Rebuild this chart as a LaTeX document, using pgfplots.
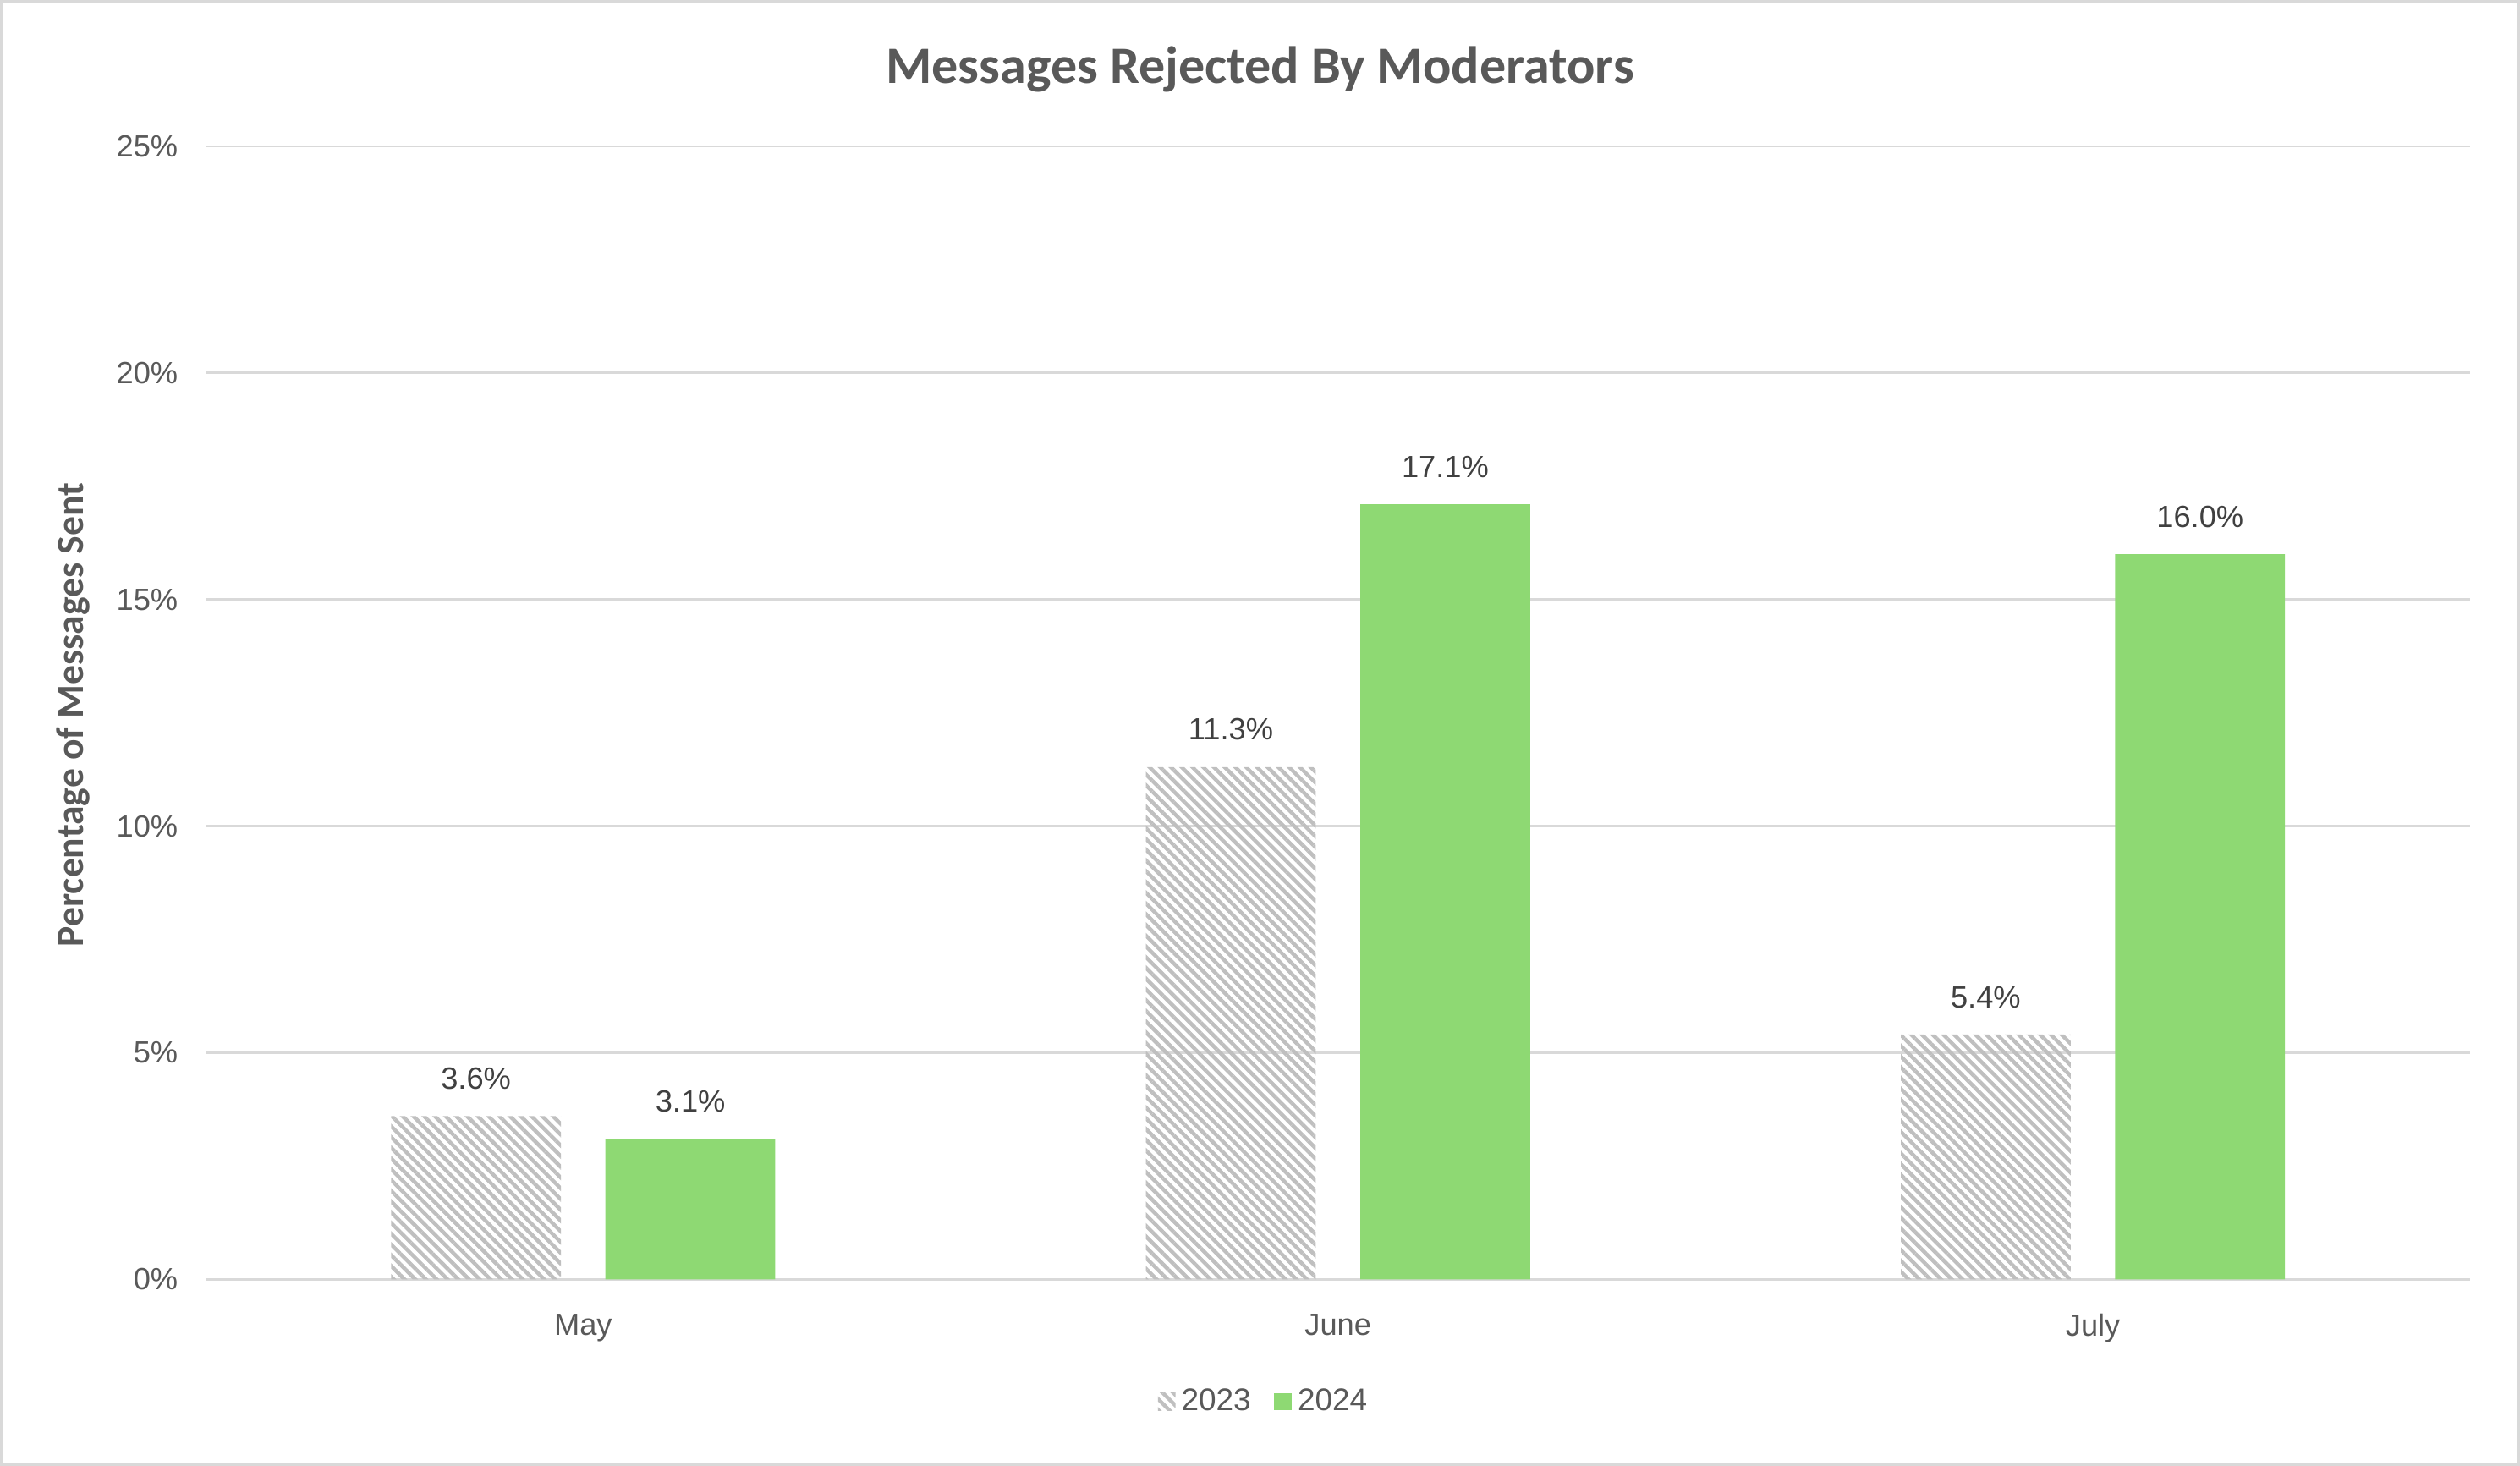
\documentclass[border=0pt]{standalone}
\usepackage{fontspec}
\setmainfont{Liberation Sans}
\newfontfamily\condbold{Carlito}
\usepackage{pgfplots}
\pgfplotsset{compat=1.18}
\usetikzlibrary{patterns.meta}
\definecolor{txt}{HTML}{595959}
\definecolor{grd}{HTML}{D9D9D9}
\definecolor{grn}{HTML}{8ED973}
\definecolor{hatch}{HTML}{BFBFBF}
\begin{document}
\begin{tikzpicture}
\useasboundingbox (0,0) rectangle (862.4pt,501.6pt);
\draw[grd, line width=0.8pt] (0.4pt,0.4pt) rectangle (862pt,501.2pt);
\node[font=\condbold\bfseries\fontsize{18}{20}\selectfont, text=txt] at (431.2pt,478pt) {Messages Rejected By Moderators};
\node[font=\condbold\bfseries\fontsize{13.2}{15}\selectfont, text=txt, rotate=90] at (25pt,257pt) {Percentage of Messages Sent};
\begin{axis}[
  at={(70.4pt,63.8pt)}, anchor=south west,
  scale only axis, width=775pt, height=387.75pt,
  xmin=-0.5, xmax=2.5, ymin=0, ymax=25,
  xtick={0,1,2}, xticklabels={May,June,July},
  ytick={0,5,10,15,20,25},
  yticklabel={\pgfmathprintnumber{\tick}\%},
  /pgf/number format/assume math mode=true,
  tick label style={font=\fontsize{10.5}{12}\selectfont, text=txt},
  xticklabel style={yshift=-8.4pt},
  yticklabel style={xshift=-6pt},
  major tick length=0pt,
  axis line style={draw=none},
  axis x line*=bottom,
  ymajorgrids, grid style={grd, line width=0.8pt},
  extra y ticks={0}, extra y tick labels={},
  extra y tick style={grid style={grd,line width=1pt}},
  ybar, bar width=0.225,
  nodes near coords={\pgfmathprintnumber[fixed,fixed zerofill,precision=1]{\pgfplotspointmeta}\%},
  nodes near coords style={font=\fontsize{10.5}{12}\selectfont, text=black!75, yshift=5.6pt},
  legend style={at={(0.468,-0.108)}, anchor=center, draw=none, legend columns=2,
    font=\fontsize{10.7}{12}\selectfont, text=txt,
    /tikz/every even column/.append style={column sep=6pt}},
  legend image code/.code={\fill[#1] (0pt,-3pt) rectangle (6pt,3pt);},
]
\addplot[draw=none, bar shift=-0.142, pattern={Lines[angle=-45,distance=2.6pt,line width=1.3pt]}, pattern color=hatch]
  coordinates {(0,3.6) (1,11.3) (2,5.4)};
\addplot[draw=none, fill=grn, bar shift=0.142]
  coordinates {(0,3.1) (1,17.1) (2,16.0)};
\legend{2023,2024}
\end{axis}
\end{tikzpicture}
\end{document}
